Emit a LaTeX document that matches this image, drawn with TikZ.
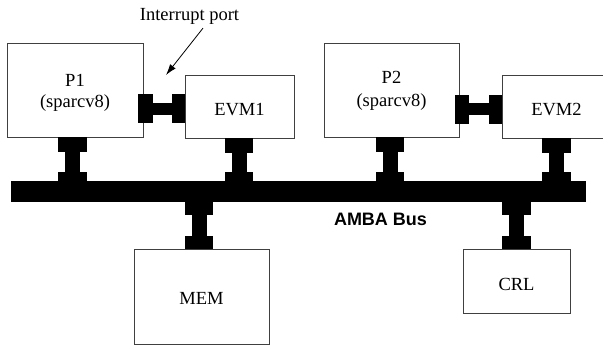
\documentclass[tikz,border=0pt]{standalone}
\usepackage{fontspec}
\setmainfont{Liberation Serif}
\newfontfamily\busfont{Liberation Sans}
\usetikzlibrary{arrows.meta,calc}

% I-beam link, vertical: #1 top end, #2 bottom end, #3 top flange, #4 bottom flange
\newcommand\vlink[4]{%
  \draw[beam=15pt] (#1) -- (#2);
  \draw[beam=28.5pt] (#1) -- ++(0,#3);
  \draw[beam=28.5pt] (#2) -- ++(0,-#4);
}
% I-beam link, horizontal: #1 left end, #2 right end, #3 left flange, #4 right flange
\newcommand\hlink[4]{%
  \draw[beam=12pt] (#1) -- (#2);
  \draw[beam=29pt] (#1) -- ++(#3,0);
  \draw[beam=29pt] (#2) -- ++(-#4,0);
}
% set a line of box text a little below its natural place
\newcommand\lowered[2][3pt]{\raisebox{-#1}[\height][\depth]{#2}}

\begin{document}
\begin{tikzpicture}[x=1pt,y=-1pt,
  box/.style={draw=black!75, line width=0.9pt, fill=white, inner sep=0pt,
    align=center, font=\fontsize{18.5}{21}\selectfont},
  beam/.style={draw=black, line width=#1, line cap=butt},
  lbl/.style={font=\fontsize{18.5}{21}\selectfont, inner sep=0pt, anchor=base},
]
\useasboundingbox (0,0) rectangle (603,346);

% processing elements and peripherals
\node[box, minimum width=136pt, minimum height=94pt] (P1)   at (75,90)     {\lowered{P1}\\\lowered{(sparcv8)}};
\node[box, minimum width=109pt, minimum height=63pt] (EVM1) at (239.5,106.5) {\lowered[3.5pt]{EVM1}};
\node[box, minimum width=135pt, minimum height=94pt] (P2)   at (391.5,90)  {P2\\\lowered[1.5pt]{(sparcv8)}};
\node[box, minimum width=109pt, minimum height=63pt] (EVM2) at (556.5,106.5) {\lowered[3.5pt]{EVM2}};
\node[box, minimum width=135pt, minimum height=95pt] (MEM)  at (201.5,296.5) {\lowered[1.5pt]{MEM}};
\node[box, minimum width=107pt, minimum height=64pt] (CRL)  at (516.5,281)   {\lowered{CRL}};

% the shared bus
\node[fill=black, inner sep=0pt, minimum width=575pt, minimum height=21pt] (bus) at (298.5,191.5) {};
\node[lbl, font=\busfont\bfseries\fontsize{18}{21}\selectfont] (buslbl) at (380.5,225) {AMBA Bus};

% bus attachment points
\coordinate (p1b)   at ($(P1.south)+(-2.5,0)$);
\coordinate (evm1b) at ($(EVM1.south)+(-0.5,0)$);
\coordinate (p2b)   at ($(P2.south)+(-1.5,0)$);
\coordinate (evm2b) at (EVM2.south);
\coordinate (memt)  at ($(MEM.north)+(-2.5,0)$);
\coordinate (crlt)  at (CRL.north);

\vlink{p1b}{p1b |- bus.north}{14.5}{9}
\vlink{evm1b}{evm1b |- bus.north}{14.5}{9}
\vlink{p2b}{p2b |- bus.north}{14.5}{9}
\vlink{evm2b}{evm2b |- bus.north}{14.5}{9}
\vlink{memt |- bus.south}{memt}{13}{13}
\vlink{crlt |- bus.south}{crlt}{13}{13}

% interrupt ports between each processor and its event manager
\coordinate (i1l) at ($(P1.east |- EVM1.west)+(-5,2)$);
\coordinate (i1r) at ($(EVM1.west)+(0,2)$);
\hlink{i1l}{i1r}{15}{13}
\coordinate (i2l) at ($(P2.east |- EVM2.west)+(-4,2.5)$);
\coordinate (i2r) at ($(EVM2.west)+(0,2.5)$);
\hlink{i2l}{i2r}{14}{13}

% callout
\node[lbl] (ip) at (189.5,20) {Interrupt port};
\coordinate (iptip) at (166,75);
\draw[-{Latex[length=11pt,width=7pt]}, line width=0.8pt] ($(ip.south)+(13.5,4)$) -- (iptip);
\end{tikzpicture}
\end{document}
